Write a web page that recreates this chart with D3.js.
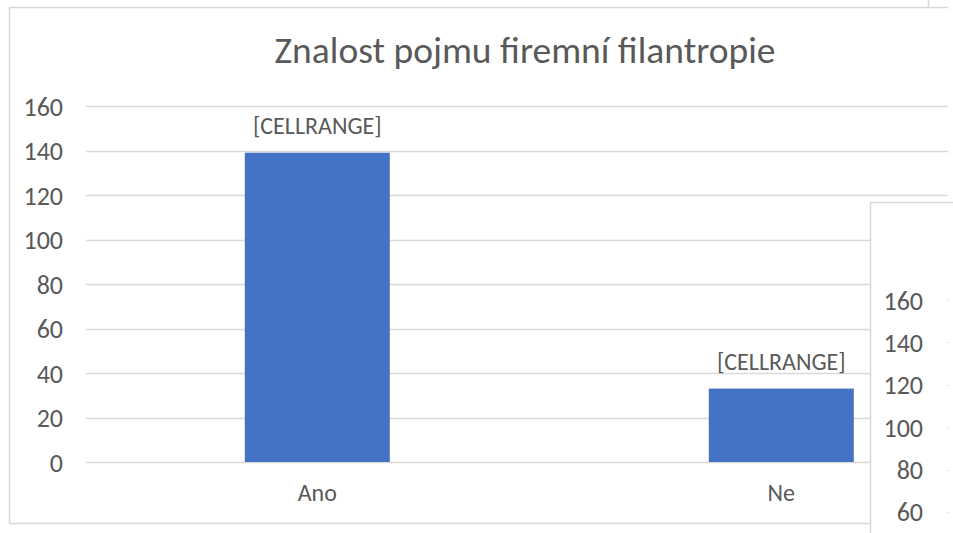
<!DOCTYPE html>
<html>
<head>
<meta charset="utf-8">
<script src="https://cdn.jsdelivr.net/npm/d3@7"></script>
<style>
  html, body { margin: 0; padding: 0; background: #fff; }
  svg { display: block; }
  text { font-family: Calibri, Carlito, Lato, sans-serif; fill: #595959; }
</style>
</head>
<body>
<svg id="chart" width="953" height="533"></svg>
<script>
// ---- data ----
const title = "Znalost pojmu firemní filantropie";
const categories = ["Ano", "Ne"];
const values = [139, 33];
const dataLabels = ["[CELLRANGE]", "[CELLRANGE]"];
const yTicks = [0, 20, 40, 60, 80, 100, 120, 140, 160];
// second (overlapping) chart fragment, only its axis is visible
const y2Ticks = [60, 80, 100, 120, 140, 160];

const svg = d3.select("#chart");
const W = 953, H = 533;

// main chart frame (cut off on the right)
const frame = { left: 9.5, top: 7.5, bottom: 523.5, right: 948 };
svg.append("path")
  .attr("d", `M${frame.right},${frame.top}H${frame.left}V${frame.bottom}H${W}`)
  .attr("fill", "none").attr("stroke", "#d9d9d9").attr("stroke-width", 1.5);
// stray panel edge at the top right
svg.append("line").attr("x1", 928.5).attr("x2", 928.5).attr("y1", 0).attr("y2", 7)
  .attr("stroke", "#d9d9d9").attr("stroke-width", 1.5);

// title
svg.append("text")
  .attr("x", 525).attr("y", 63)
  .attr("text-anchor", "middle")
  .style("font-size", "37.5px")
  .style("font-weight", "300")
  .text(title);

// scales
const y = d3.scaleLinear().domain([0, 160]).range([462, 106]);
const x = d3.scaleBand().domain(categories).range([85.3, 1013.3])
  .paddingInner(0.6875).paddingOuter(0.34375);

// gridlines
const clip = svg.append("defs").append("clipPath").attr("id", "plotclip");
clip.append("rect").attr("x", 0).attr("y", 0).attr("width", frame.right).attr("height", H);

const g = svg.append("g").attr("clip-path", "url(#plotclip)");
g.selectAll("line.grid").data(yTicks).join("line")
  .attr("class", "grid")
  .attr("x1", 86).attr("x2", 1013)
  .attr("y1", d => Math.round(y(d)) + 0.5).attr("y2", d => Math.round(y(d)) + 0.5)
  .attr("stroke", "#d9d9d9").attr("stroke-width", 1.3);

// y axis labels
const yAxis = d3.axisLeft(y).tickValues(yTicks).tickSize(0).tickPadding(0);
const ya = svg.append("g").attr("transform", "translate(63,0)").call(yAxis);
ya.select(".domain").remove();
ya.selectAll("text").style("font-size", "26px").attr("fill", "#595959").attr("dy", "0.35em");

// bars
g.selectAll("rect.bar").data(values).join("rect")
  .attr("class", "bar")
  .attr("x", (d, i) => x(categories[i]))
  .attr("width", x.bandwidth())
  .attr("y", d => y(d))
  .attr("height", d => y(0) - y(d))
  .attr("fill", "#4472C4");

// data labels
svg.selectAll("text.dl").data(values).join("text")
  .attr("class", "dl")
  .attr("x", (d, i) => x(categories[i]) + x.bandwidth() / 2)
  .attr("y", d => y(d) - 19)
  .attr("text-anchor", "middle")
  .style("font-size", "24px")
  .text((d, i) => dataLabels[i]);

// x axis labels
const xAxis = d3.axisBottom(x).tickSize(0).tickPadding(0);
const xa = svg.append("g").attr("transform", "translate(0,484)").call(xAxis);
xa.select(".domain").remove();
xa.selectAll("text").style("font-size", "24px").attr("fill", "#595959").attr("dy", "0.71em");

// overlapping second chart panel
svg.append("rect")
  .attr("x", 870.5).attr("y", 202.5).attr("width", 200).attr("height", 400)
  .attr("fill", "#fff").attr("stroke", "#d9d9d9").attr("stroke-width", 1.5);

const y2 = d3.scaleLinear().domain([0, 160]).range([639, 300]);
const y2Axis = d3.axisLeft(y2).tickValues(y2Ticks).tickSize(0).tickPadding(0);
const y2a = svg.append("g").attr("transform", "translate(923,0)").call(y2Axis);
y2a.select(".domain").remove();
y2a.selectAll("text").style("font-size", "26px").attr("fill", "#595959").attr("dy", "0.35em");

svg.selectAll("line.grid2").data(y2Ticks).join("line")
  .attr("class", "grid2")
  .attr("x1", 946).attr("x2", 948.5)
  .attr("y1", d => Math.round(y2(d)) + 0.5).attr("y2", d => Math.round(y2(d)) + 0.5)
  .attr("stroke", "#e3e3e3").attr("stroke-width", 1);
</script>
</body>
</html>
